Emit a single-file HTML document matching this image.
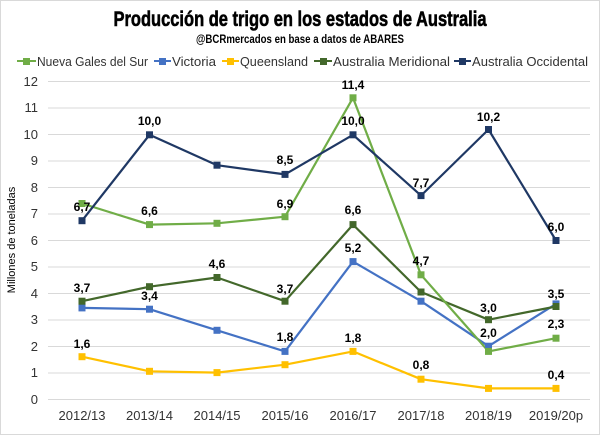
<!DOCTYPE html>
<html><head><meta charset="utf-8"><style>
html,body{margin:0;padding:0;background:#fff}
svg{display:block;font-family:"Liberation Sans",sans-serif}
</style></head><body>
<svg width="600" height="435" viewBox="0 0 600 435" xmlns="http://www.w3.org/2000/svg">
<rect x="0.5" y="0.5" width="599" height="434" fill="#fff" stroke="#d9d9d9"/>
<text x="300" y="26" text-anchor="middle" font-size="21" font-weight="bold" textLength="373" lengthAdjust="spacingAndGlyphs" fill="#000" stroke="#000" stroke-width="0.6">Producción de trigo en los estados de Australia</text>
<text x="300" y="43" text-anchor="middle" font-size="12" font-weight="bold" textLength="208" lengthAdjust="spacingAndGlyphs" fill="#000">@BCRmercados en base a datos de ABARES</text>
<g font-size="13" fill="#333">
<line x1="17" y1="61" x2="36" y2="61" stroke="#70ad47" stroke-width="2"/><rect x="23" y="58" width="7" height="7" fill="#70ad47"/><text x="37" y="66" textLength="111" lengthAdjust="spacingAndGlyphs">Nueva Gales del Sur</text>
<line x1="154" y1="61" x2="171" y2="61" stroke="#4472c4" stroke-width="2"/><rect x="159" y="58" width="7" height="7" fill="#4472c4"/><text x="172" y="66" textLength="44" lengthAdjust="spacingAndGlyphs">Victoria</text>
<line x1="222" y1="61" x2="239" y2="61" stroke="#ffc000" stroke-width="2"/><rect x="227" y="58" width="7" height="7" fill="#ffc000"/><text x="240" y="66" textLength="68" lengthAdjust="spacingAndGlyphs">Queensland</text>
<line x1="314" y1="61" x2="332" y2="61" stroke="#43682b" stroke-width="2"/><rect x="320" y="58" width="7" height="7" fill="#43682b"/><text x="333" y="66" textLength="117" lengthAdjust="spacingAndGlyphs">Australia Meridional</text>
<line x1="454" y1="61" x2="471" y2="61" stroke="#1f3864" stroke-width="2"/><rect x="459" y="58" width="7" height="7" fill="#1f3864"/><text x="472" y="66" textLength="116" lengthAdjust="spacingAndGlyphs">Australia Occidental</text>
</g>
<g stroke="#d9d9d9" stroke-width="1">
<line x1="48" y1="399.5" x2="590" y2="399.5"/><line x1="48" y1="373" x2="590" y2="373"/><line x1="48" y1="346.5" x2="590" y2="346.5"/><line x1="48" y1="320" x2="590" y2="320"/><line x1="48" y1="293.5" x2="590" y2="293.5"/><line x1="48" y1="267" x2="590" y2="267"/><line x1="48" y1="240.5" x2="590" y2="240.5"/><line x1="48" y1="214" x2="590" y2="214"/><line x1="48" y1="187.5" x2="590" y2="187.5"/><line x1="48" y1="161" x2="590" y2="161"/><line x1="48" y1="134.5" x2="590" y2="134.5"/><line x1="48" y1="108" x2="590" y2="108"/><line x1="48" y1="81.5" x2="590" y2="81.5"/>
</g>
<g font-size="13" fill="#333" text-anchor="end">
<text x="38" y="404">0</text><text x="38" y="377">1</text><text x="38" y="351">2</text><text x="38" y="324">3</text><text x="38" y="298">4</text><text x="38" y="271">5</text><text x="38" y="245">6</text><text x="38" y="218">7</text><text x="38" y="192">8</text><text x="38" y="165">9</text><text x="38" y="139">10</text><text x="38" y="112">11</text><text x="38" y="86">12</text>
</g>
<text transform="translate(15,240) rotate(-90)" text-anchor="middle" font-size="11" fill="#000">Millones de toneladas</text>
<g font-size="13" fill="#333" text-anchor="middle">
<text x="82" y="420">2012/13</text><text x="149.5" y="420">2013/14</text><text x="217" y="420">2014/15</text><text x="285" y="420">2015/16</text><text x="353" y="420">2016/17</text><text x="421" y="420">2017/18</text><text x="488.5" y="420">2018/19</text><text x="556" y="420">2019/20p</text>
</g>
<g fill="none" stroke-width="2.2" stroke-linejoin="round">
<polyline stroke="#ffc000" points="82,356.7 149.5,371.3 217,372.6 285,364.7 353,351.4 421,379.2 488.5,388.4 556,388.4"/>
<polyline stroke="#4472c4" points="82,307.9 149.5,309.2 217,330.3 285,351.4 353,261.6 421,301.2 488.5,346.2 556,303.9"/>
<polyline stroke="#43682b" points="82,301.2 149.5,286.7 217,277.5 285,301.2 353,224.6 421,292 488.5,319.7 556,306.5"/>
<polyline stroke="#70ad47" points="82,203.5 149.5,224.6 217,223.3 285,216.7 353,97.8 421,274.8 488.5,351.4 556,338.2"/>
<polyline stroke="#1f3864" points="82,220.7 149.5,134.8 217,165.2 285,174.4 353,134.8 421,195.6 488.5,129.5 556,240.5"/>
</g>
<g fill="#ffc000"><rect x="78.5" y="353.2" width="7" height="7"/><rect x="146" y="367.8" width="7" height="7"/><rect x="213.5" y="369.1" width="7" height="7"/><rect x="281.5" y="361.2" width="7" height="7"/><rect x="349.5" y="347.9" width="7" height="7"/><rect x="417.5" y="375.7" width="7" height="7"/><rect x="485" y="384.9" width="7" height="7"/><rect x="552.5" y="384.9" width="7" height="7"/></g>
<g fill="#4472c4"><rect x="78.5" y="304.4" width="7" height="7"/><rect x="146" y="305.7" width="7" height="7"/><rect x="213.5" y="326.8" width="7" height="7"/><rect x="281.5" y="347.9" width="7" height="7"/><rect x="349.5" y="258.1" width="7" height="7"/><rect x="417.5" y="297.7" width="7" height="7"/><rect x="485" y="342.7" width="7" height="7"/><rect x="552.5" y="300.4" width="7" height="7"/></g>
<g fill="#43682b"><rect x="78.5" y="297.7" width="7" height="7"/><rect x="146" y="283.2" width="7" height="7"/><rect x="213.5" y="274" width="7" height="7"/><rect x="281.5" y="297.7" width="7" height="7"/><rect x="349.5" y="221.1" width="7" height="7"/><rect x="417.5" y="288.5" width="7" height="7"/><rect x="485" y="316.2" width="7" height="7"/><rect x="552.5" y="303" width="7" height="7"/></g>
<g fill="#70ad47"><rect x="78.5" y="200" width="7" height="7"/><rect x="146" y="221.1" width="7" height="7"/><rect x="213.5" y="219.8" width="7" height="7"/><rect x="281.5" y="213.2" width="7" height="7"/><rect x="349.5" y="94.3" width="7" height="7"/><rect x="417.5" y="271.3" width="7" height="7"/><rect x="485" y="347.9" width="7" height="7"/><rect x="552.5" y="334.7" width="7" height="7"/></g>
<g fill="#1f3864"><rect x="78.5" y="217.2" width="7" height="7"/><rect x="146" y="131.3" width="7" height="7"/><rect x="213.5" y="161.7" width="7" height="7"/><rect x="281.5" y="170.9" width="7" height="7"/><rect x="349.5" y="131.3" width="7" height="7"/><rect x="417.5" y="192.1" width="7" height="7"/><rect x="485" y="126" width="7" height="7"/><rect x="552.5" y="237" width="7" height="7"/></g>
<g font-size="12" font-weight="bold" fill="#000" text-anchor="middle">
<text x="82" y="211">6,7</text><text x="149.5" y="125">10,0</text><text x="285" y="164">8,5</text><text x="353" y="125">10,0</text><text x="421" y="187">7,7</text><text x="488.5" y="121">10,2</text><text x="556" y="231">6,0</text>
<text x="149.5" y="215">6,6</text><text x="285" y="208">6,9</text><text x="353" y="89">11,4</text><text x="421" y="265">4,7</text><text x="556" y="328">2,3</text>
<text x="82" y="292">3,7</text><text x="217" y="268">4,6</text><text x="285" y="293">3,7</text><text x="353" y="214">6,6</text><text x="488.5" y="312">3,0</text><text x="556" y="298">3,5</text>
<text x="149.5" y="300">3,4</text><text x="285" y="341">1,8</text><text x="353" y="252">5,2</text><text x="488.5" y="337">2,0</text>
<text x="82" y="348">1,6</text><text x="353" y="342">1,8</text><text x="421" y="369">0,8</text><text x="556" y="379">0,4</text>
</g>
</svg>
</body></html>
